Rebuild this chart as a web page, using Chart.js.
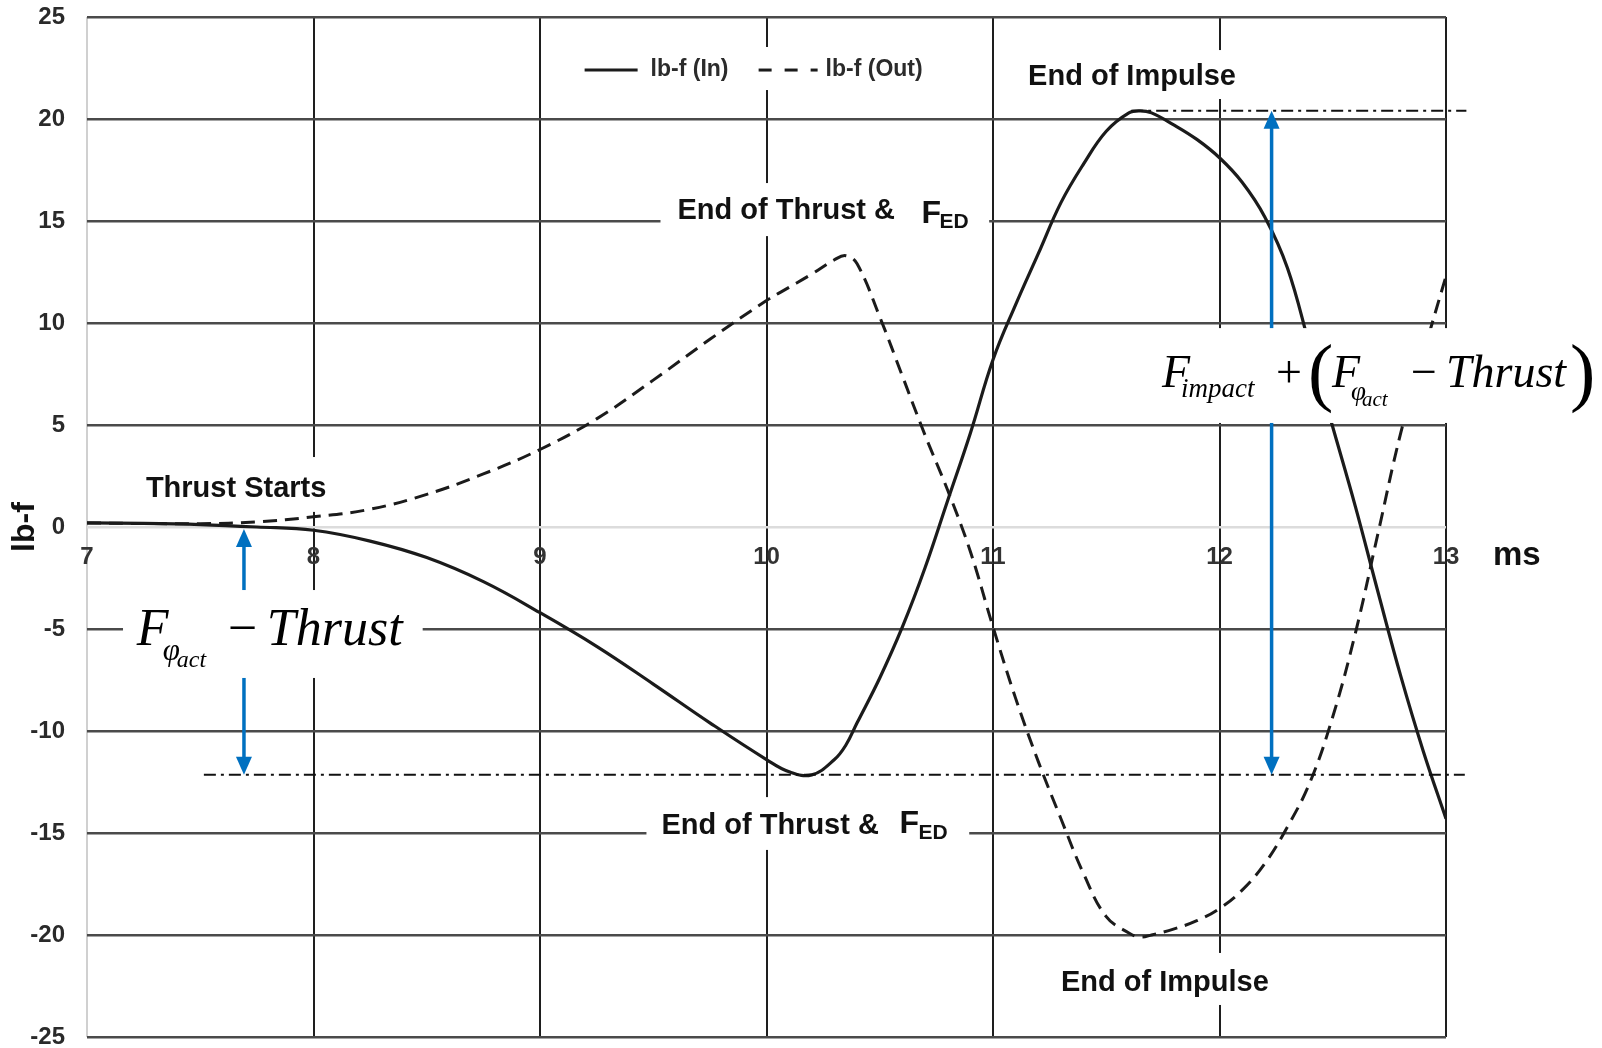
<!DOCTYPE html>
<html>
<head>
<meta charset="utf-8">
<script src="https://cdn.jsdelivr.net/npm/chart.js@4.4.1/dist/chart.umd.min.js"></script>
<style>
    html, body { margin: 0; padding: 0; background: #fff; }
    #wrap { width: 1602px; height: 1048px; }
</style>
</head>
<body>
<div id="wrap"><canvas id="impulseChart"></canvas></div>
<script>
// time axis (ms) shared by both traces
const timeMs = [
    7, 7.25, 7.5, 7.75, 8, 8.25, 8.5, 8.75, 9, 9.25, 9.5, 9.75,
    10, 10.1, 10.2, 10.3, 10.35, 10.4, 10.5, 10.6, 10.7, 10.8, 10.9,
    11, 11.1, 11.2, 11.3, 11.4, 11.5, 11.6, 11.65, 11.7, 11.8, 11.9,
    12, 12.1, 12.2, 12.3, 12.4, 12.5, 12.6, 12.7, 12.8, 12.9, 13,
];

// force on the inner side (lb-f)
const lbfIn = [
    0.2, 0.18, 0.12, 0.0, -0.16, -0.69, -1.5, -2.68, -4.2, -5.85, -7.7, -9.6,
    -11.4, -12.0, -12.15, -11.4, -10.7, -9.6, -7.4, -4.9, -2.0, 1.3, 4.6,
    8.2, 10.9, 13.4, 15.9, 17.8, 19.4, 20.3, 20.4, 20.3, 19.7, 19.0,
    18.1, 16.9, 15.2, 12.7, 8.8, 4.9, 1.0, -3.2, -7.3, -11.0, -14.3,
];

// force on the outer side (lb-f)
const lbfOut = [
    0.2, 0.17, 0.16, 0.25, 0.5, 0.87, 1.6, 2.6, 3.8, 5.3, 7.2, 9.2,
    11.1, 11.75, 12.4, 13.1, 13.3, 12.9, 10.3, 7.4, 4.5, 1.8, -1.2,
    -4.9, -8.4, -11.5, -14.3, -17.0, -19.1, -19.9, -20.1, -20.0, -19.7, -19.3,
    -18.7, -17.8, -16.5, -14.7, -12.5, -9.3, -5.2, -0.3, 4.6, 8.5, 12.3,
];

const seriesLabels = ['lb-f (In)', 'lb-f (Out)'];
const xRange = [7, 13];
const yRange = [-25, 25];

const SANS = "'Liberation Sans', Arial, sans-serif";
const NARROW = "'Liberation Sans Narrow', 'Liberation Sans', Arial, sans-serif";
const SERIF = "'Liberation Serif', 'Times New Roman', serif";

// text notes: anchor (ms, lb-f) is left/baseline, box is [ms0, ms1, lbfTop, lbfBottom]
const notes = [
    { text: 'Thrust Starts', ms: 7.26, lbf: 1.47, box: [7.23, 8.09, 3.43, 0.74] },
    { text: 'End of Thrust &', ms: 9.607, lbf: 15.1, sub: [244, 4, 262, 9], box: [9.532, 10.983, 16.86, 14.26] },
    { text: 'End of Thrust &', ms: 9.536, lbf: -15.05, sub: [238, -1, 257, 5], box: [9.47, 10.895, -13.24, -15.83] },
    { text: 'End of Impulse', ms: 11.155, lbf: 21.67, box: [11.094, 12.13, 23.38, 20.98] },
    { text: 'End of Impulse', ms: 11.3, lbf: -22.75, box: [11.248, 12.24, -20.88, -23.43] },
];

// formula runs: [text, size, dx, dy, italic]
const leftFormula = {
    ms: 7.22, lbf: -5.78, box: [7.159, 8.482, -3.09, -7.4],
    runs: [['F', 52, 0, 0, 1], ['\u03C6', 31, 26, 15, 1], ['act', 24, 40, 22, 1],
           ['\u2212', 52, 91, 0, 0], ['Thrust', 52, 130, 0, 1]],
};
const rightFormula = {
    ms: 11.746, lbf: 6.86, box: [11.689, 13.674, 9.75, 5.1],
    runs: [['F', 46, 0, 0, 1], ['impact', 27, 19, 10, 1], ['+', 46, 114, 0, 0],
           ['(', 76, 146, 10, 0], ['F', 46, 170, 0, 1], ['\u03C6', 27, 189, 13, 1],
           ['act', 21, 200, 19, 1], ['\u2212', 46, 249, 0, 0], ['Thrust', 46, 284, 0, 1],
           [')', 76, 408, 10, 0]],
};

const legendAt = { ms: 9.197, lbf: 22.4, box: [9.153, 10.741, 23.53, 21.42] };

// extremes of the inner trace: impulse peak and the thrust dip before 11 ms
const peakIn = Math.max(...lbfIn);
const troughIn = Math.min(...lbfIn.filter((v, i) => timeMs[i] < 11));

function arrow(ctx, x, yTop, yBottom) {
    const head = 18, half = 8;
    ctx.strokeStyle = '#0070C0';
    ctx.fillStyle = '#0070C0';
    ctx.lineWidth = 3.5;
    ctx.setLineDash([]);
    ctx.beginPath();
    ctx.moveTo(x, yTop + head - 2);
    ctx.lineTo(x, yBottom - head + 2);
    ctx.stroke();
    ctx.beginPath();
    ctx.moveTo(x, yTop);
    ctx.lineTo(x - half, yTop + head);
    ctx.lineTo(x + half, yTop + head);
    ctx.closePath();
    ctx.fill();
    ctx.beginPath();
    ctx.moveTo(x, yBottom);
    ctx.lineTo(x - half, yBottom - head);
    ctx.lineTo(x + half, yBottom - head);
    ctx.closePath();
    ctx.fill();
}

function drawRuns(ctx, x0, y0, runs) {
    ctx.fillStyle = '#000';
    ctx.textAlign = 'left';
    ctx.textBaseline = 'alphabetic';
    runs.forEach(([t, size, dx, dy, italic]) => {
        ctx.font = (italic ? 'italic ' : '') + size + 'px ' + SERIF;
        ctx.fillText(t, x0 + dx, y0 + dy);
    });
}

const annotations = {
    id: 'annotations',
    afterDatasetsDraw(chart) {
        const { ctx, scales: { x, y } } = chart;
        const px = v => x.getPixelForValue(v);
        const py = v => y.getPixelForValue(v);
        const whiteBox = b => {
            ctx.fillStyle = '#fff';
            ctx.fillRect(px(b[0]), py(b[2]), px(b[1]) - px(b[0]), py(b[3]) - py(b[2]));
        };

        ctx.save();

        // dash-dot guides at the extremes of the inner trace
        ctx.strokeStyle = '#111';
        ctx.lineWidth = 2;
        ctx.setLineDash([12, 5, 3, 5]);
        ctx.beginPath();
        ctx.moveTo(px(7.516), py(troughIn));
        ctx.lineTo(px(13.083), py(troughIn));
        ctx.moveTo(px(11.61), py(peakIn));
        ctx.lineTo(px(13.09), py(peakIn));
        ctx.stroke();

        arrow(ctx, px(7.693), py(-0.1), py(troughIn));
        arrow(ctx, px(12.23), py(peakIn), py(troughIn));

        notes.forEach(n => whiteBox(n.box));
        whiteBox(leftFormula.box);
        whiteBox(rightFormula.box);
        whiteBox(legendAt.box);

        // text notes
        ctx.fillStyle = '#111';
        ctx.textAlign = 'left';
        ctx.textBaseline = 'alphabetic';
        notes.forEach(n => {
            const x0 = px(n.ms), y0 = py(n.lbf);
            ctx.font = 'bold 29px ' + SANS;
            ctx.fillText(n.text, x0, y0);
            if (n.sub) {
                ctx.font = 'bold 32px ' + SANS;
                ctx.fillText('F', x0 + n.sub[0], y0 + n.sub[1]);
                ctx.font = 'bold 21px ' + SANS;
                ctx.fillText('ED', x0 + n.sub[2], y0 + n.sub[3]);
            }
        });

        drawRuns(ctx, px(leftFormula.ms), py(leftFormula.lbf), leftFormula.runs);
        drawRuns(ctx, px(rightFormula.ms), py(rightFormula.lbf), rightFormula.runs);

        // legend
        const lx = px(legendAt.ms), ly = py(legendAt.lbf);
        ctx.strokeStyle = '#1b1b1b';
        ctx.lineWidth = 3;
        ctx.setLineDash([]);
        ctx.beginPath();
        ctx.moveTo(lx, ly);
        ctx.lineTo(lx + 53, ly);
        ctx.stroke();
        ctx.setLineDash([13, 13]);
        ctx.beginPath();
        ctx.moveTo(lx + 174, ly);
        ctx.lineTo(lx + 233, ly);
        ctx.stroke();
        ctx.setLineDash([]);
        ctx.fillStyle = '#2b2b2b';
        ctx.font = 'bold 23px ' + SANS;
        ctx.textBaseline = 'middle';
        ctx.fillText(chart.data.datasets[0].label, lx + 66, ly);
        ctx.fillText(chart.data.datasets[1].label, lx + 241, ly);

        // unit of the time axis
        ctx.fillStyle = '#111';
        ctx.font = 'bold 33px ' + NARROW;
        ctx.textBaseline = 'alphabetic';
        ctx.fillText('ms', x.right + 47, py(0) + 38);

        ctx.restore();
    }
};

const config = {
    type: 'line',
    data: {
        datasets: [{
            label: seriesLabels[0],
            data: timeMs.map((t, i) => ({ x: t, y: lbfIn[i] })),
            borderColor: '#1b1b1b',
            borderWidth: 3.2,
            pointRadius: 0,
            tension: 0.4,
            fill: false,
        }, {
            label: seriesLabels[1],
            data: timeMs.map((t, i) => ({ x: t, y: lbfOut[i] })),
            borderColor: '#1b1b1b',
            borderWidth: 3,
            borderDash: [14, 8],
            pointRadius: 0,
            tension: 0.4,
            fill: false,
        }]
    },
    options: {
        responsive: true,
        maintainAspectRatio: false,
        animation: false,
        layout: { padding: { left: 0, right: 156, top: 17, bottom: 11 } },
        plugins: {
            legend: { display: false },
            tooltip: { enabled: false },
        },
        scales: {
            x: {
                type: 'linear',
                min: xRange[0],
                max: xRange[1],
                position: { y: 0 },
                afterFit: s => { s.paddingLeft = 0; s.paddingRight = 0; },
                ticks: {
                    stepSize: 1,
                    padding: 16,
                    color: '#333',
                    font: { family: NARROW, size: 24, weight: 'bold' },
                },
                grid: {
                    drawTicks: false,
                    lineWidth: 2,
                    color: c => c.tick && c.tick.value === xRange[0] ? '#d0d0d0' : '#1e1e1e',
                },
                border: { display: false },
            },
            y: {
                min: yRange[0],
                max: yRange[1],
                afterFit: s => { s.width = 87; s.paddingTop = 0; s.paddingBottom = 0; },
                ticks: {
                    stepSize: 5,
                    padding: 22,
                    color: '#2a2a2a',
                    font: { family: NARROW, size: 24, weight: 'bold' },
                },
                grid: {
                    drawTicks: false,
                    lineWidth: 2.5,
                    color: c => c.tick && c.tick.value === 0 ? '#dcdcdc' : '#4a4a4a',
                },
                border: { display: false },
                title: {
                    display: true,
                    text: 'lb-f',
                    color: '#111',
                    font: { family: NARROW, size: 32, weight: 'bold' },
                    padding: { top: 6, bottom: 0 },
                },
            }
        }
    },
    plugins: [annotations]
};

const impulseChart = new Chart(document.getElementById('impulseChart'), config);
</script>
</body>
</html>
